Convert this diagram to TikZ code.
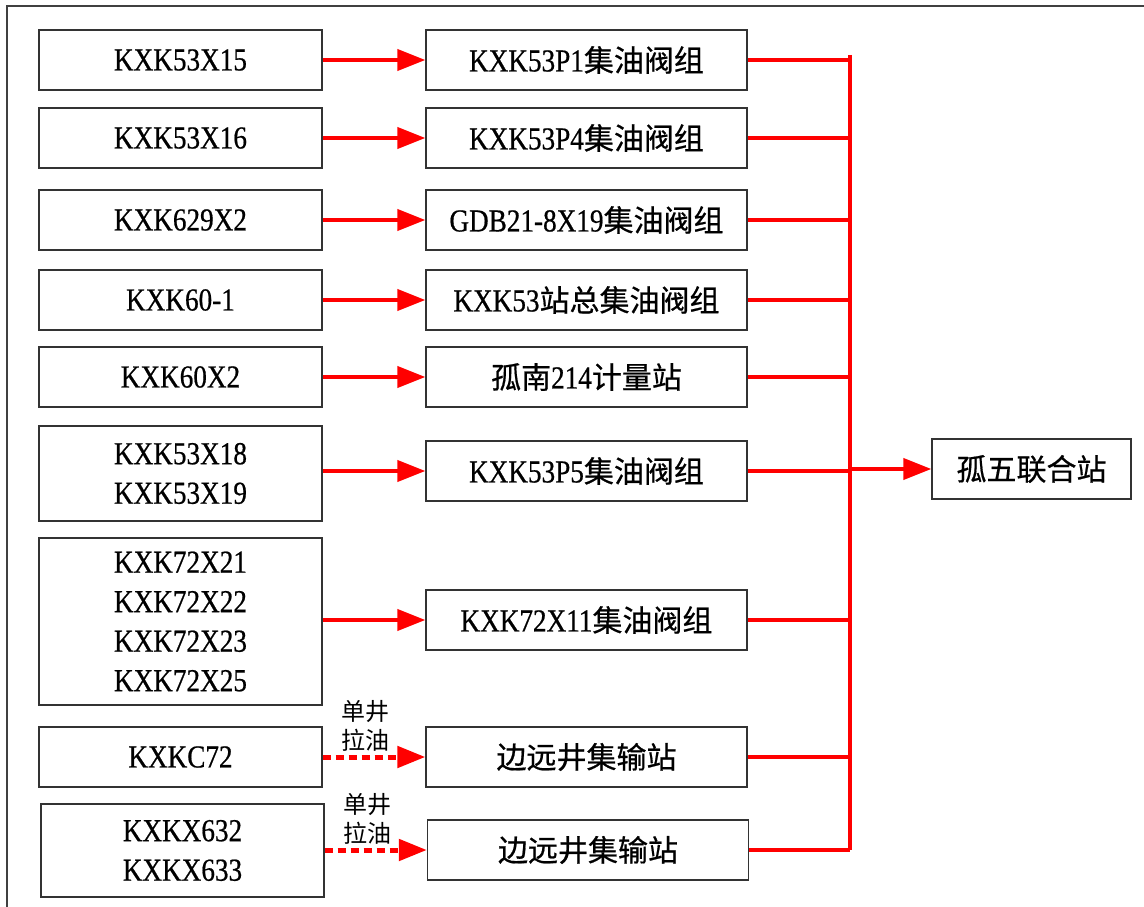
\documentclass[tikz,border=0pt]{standalone}
\usepackage{fontspec}
\setmainfont[FakeStretch=0.85,FakeBold=0.6]{Liberation Serif}
\newfontfamily\cjkfont[FakeBold=0.6]{Noto Sans CJK SC}
\newfontfamily\lblfont{Noto Sans CJK SC}
\newcommand\zh[1]{{\cjkfont\fontsize{30}{39.5}\selectfont #1}}
\usetikzlibrary{arrows.meta}
\begin{document}
\begin{tikzpicture}[x=1pt,y=-1pt,
  box/.style={draw=black!80, line width=1.3pt, minimum width=283pt, minimum height=60pt,
    inner sep=0pt, align=center, font=\fontsize{32}{39.5}\selectfont},
  mbox/.style={box, minimum width=321pt},
  flow/.style={draw=red, line width=4pt, -{Triangle[length=28pt,width=21pt]}},
  dflow/.style={draw=red, line width=5pt, dash pattern=on 8pt off 5pt, -{Triangle[length=28pt,width=21pt]}},
  bus/.style={draw=red, line width=4pt},
  lbl/.style={font=\lblfont\fontsize{24}{29}\selectfont, align=center, inner sep=3pt, above}]
\useasboundingbox (0,0) rectangle (1144,907);
\draw[black!75, line width=2pt] (7,907) -- (7,6) -- (1144,6);
% left boxes
\node[box] (L1) at (180.5,60) {KXK53X15};
\node[box] (L2) at (180.5,138) {KXK53X16};
\node[box] (L3) at (180.5,220) {KXK629X2};
\node[box] (L4) at (180.5,300) {KXK60-1};
\node[box] (L5) at (180.5,377) {KXK60X2};
\node[box, minimum height=95pt] (L6) at (180.5,473.5) {KXK53X18\\KXK53X19};
\node[box, minimum height=167pt] (L7) at (180.5,621.5) {KXK72X21\\KXK72X22\\KXK72X23\\KXK72X25};
\node[box] (L8) at (180.5,757) {KXKC72};
\node[box, minimum height=93pt] (L9) at (182.5,850.5) {KXKX632\\KXKX633};
% middle boxes
\node[mbox] (M1) at (586.5,60) {KXK53P1\zh{集油阀组}};
\node[mbox] (M2) at (586.5,138) {KXK53P4\zh{集油阀组}};
\node[mbox] (M3) at (586.5,220) {GDB21-8X19\zh{集油阀组}};
\node[mbox] (M4) at (586.5,300) {KXK53\zh{站总集油阀组}};
\node[mbox] (M5) at (586.5,377) {\zh{孤南}214\zh{计量站}};
\node[mbox] (M6) at (586.5,471) {KXK53P5\zh{集油阀组}};
\node[mbox] (M7) at (586.5,620) {KXK72X11\zh{集油阀组}};
\node[mbox] (M8) at (586.5,757) {\zh{边远井集输站}};
\node[mbox] (M9) at (588,850) {\zh{边远井集输站}};
% right box
\node[box, minimum width=199pt] (R) at (1031.5,469) {\zh{孤五联合站}};
% arrows left to middle
\foreach \i in {1,...,7} { \draw[flow] (L\i.east |- M\i.west) -- (M\i.west); }
\draw[dflow] (L8.east |- M8.west) -- node[lbl, pos=0.42] (T8) {单井\\拉油} (M8.west);
\draw[dflow] (L9.east |- M9.west) -- node[lbl, pos=0.42] (T9) {单井\\拉油} (M9.west);
% bus
\coordinate (bt) at (850,57);
\coordinate (bb) at (850,850);
\draw[bus] (850,55) -- (bb);
\foreach \i in {1,...,9} { \draw[bus] (M\i.east) -- (M\i.east -| bt); }
\draw[flow] (R.west -| bt) -- (R.west);
\end{tikzpicture}
\end{document}
